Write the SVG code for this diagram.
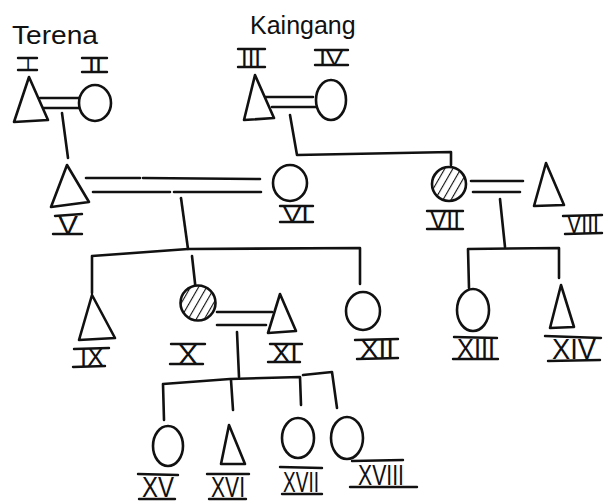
<svg xmlns="http://www.w3.org/2000/svg" width="604" height="502" viewBox="0 0 604 502">
<defs>
<style>
.s{fill:none;stroke:#111;stroke-width:2.6;stroke-linecap:round;stroke-linejoin:round}
.f{fill:#fff;stroke:#111;stroke-width:2.6;stroke-linejoin:round}
.h{fill:url(#hatch);stroke:#111;stroke-width:2.6}
.bar{stroke:#111;stroke-width:2.4;stroke-linecap:round}
.lb{font-family:"Liberation Sans",Arial,sans-serif;fill:#111;text-anchor:middle}
.tt{font-family:"Liberation Sans",Arial,sans-serif;font-size:25px;fill:#111}
</style>
<pattern id="hatch" patternUnits="userSpaceOnUse" width="7" height="7" patternTransform="rotate(30)">
<rect width="7" height="7" fill="#fff"/>
<line x1="0" y1="0" x2="0" y2="7" stroke="#111" stroke-width="2.2"/>
</pattern>
</defs>
<rect width="604" height="502" fill="#fff"/>
<text class="tt" x="12" y="44" textLength="86" lengthAdjust="spacingAndGlyphs">Terena</text>
<text class="tt" x="250" y="34">Kaingang</text>

<g id="connectors" class="s">
<path d="M40 98 L80 98 M42 108 L80 108"/>
<path d="M62 113 L68 158"/>
<path d="M265 97 L313 97 M272 107 L316 107"/>
<path d="M290 115 L297 155 L451 152 L451 165"/>
<path d="M86 178 L140 178 M143 178 L260 179 M93 192 L170 192 M174 192 L261 192"/>
<path d="M181 198 L188 249"/>
<path d="M92 293 L92 256 L188 249 L360 248 L360 284"/>
<path d="M192 256 L196 292"/>
<path d="M217 312 L272 312 M217 325 L266 325"/>
<path d="M471 181 L523 181 M473 192 L520 192"/>
<path d="M500 199 L505 247"/>
<path d="M469 288 L468 249 L559 248 L559 278"/>
<path d="M237 332 L239 377"/>
<path d="M164 420 L163 384 L230 379 L300 377 L301 405"/>
<path d="M231 380 L233 410"/>
<path d="M303 375 L332 372 L337 408"/>
</g>

<g id="n1"><path class="f" d="M29 77 L48 120 L14 122 Z"/><line class="bar" x1="18" y1="58" x2="37" y2="58"/><line class="bar" x1="18" y1="70" x2="37" y2="70"/><text class="lb" x="28" y="70" style="font-size:17px">I</text></g>
<g id="n2"><ellipse class="f" cx="95" cy="103" rx="16" ry="18"/><line class="bar" x1="82" y1="58" x2="107" y2="58"/><line class="bar" x1="82" y1="72" x2="107" y2="72"/><text class="lb" x="95" y="72" style="font-size:19px" textLength="14" lengthAdjust="spacingAndGlyphs">II</text></g>
<g id="n3"><path class="f" d="M255 75 L274 118 L244 120 Z"/><line class="bar" x1="238" y1="49" x2="265" y2="49"/><line class="bar" x1="238" y1="67" x2="265" y2="67"/><text class="lb" x="251" y="67" style="font-size:25px" textLength="20" lengthAdjust="spacingAndGlyphs">III</text></g>
<g id="n4"><ellipse class="f" cx="331" cy="100" rx="15" ry="20"/><line class="bar" x1="315" y1="50" x2="348" y2="50"/><line class="bar" x1="315" y1="65" x2="348" y2="65"/><text class="lb" x="331" y="65" style="font-size:21px" textLength="24" lengthAdjust="spacingAndGlyphs">IV</text></g>

<g id="n5"><path class="f" d="M67 165 L89 202 L51 207 Z"/><line class="bar" x1="55" y1="216" x2="82" y2="214"/><line class="bar" x1="53" y1="234" x2="82" y2="234"/><text class="lb" x="68" y="234" style="font-size:25px" textLength="20" lengthAdjust="spacingAndGlyphs">V</text></g>
<g id="n6"><ellipse class="f" cx="290" cy="183" rx="17" ry="18"/><line class="bar" x1="280" y1="206" x2="313" y2="206"/><line class="bar" x1="280" y1="222" x2="313" y2="222"/><text class="lb" x="296" y="222" style="font-size:22px" textLength="26" lengthAdjust="spacingAndGlyphs">VI</text></g>
<g id="n7"><circle class="h" cx="449" cy="184" r="17"/><line class="bar" x1="427" y1="211" x2="463" y2="211"/><line class="bar" x1="427" y1="229" x2="463" y2="229"/><text class="lb" x="445" y="229" style="font-size:25px" textLength="30" lengthAdjust="spacingAndGlyphs">VII</text></g>
<g id="n8"><path class="f" d="M546 163 L564 205 L534 206 Z"/><line class="bar" x1="563" y1="216" x2="602" y2="215"/><line class="bar" x1="565" y1="234" x2="602" y2="233"/><text class="lb" x="583" y="233" style="font-size:25px" textLength="32" lengthAdjust="spacingAndGlyphs">VIII</text></g>

<g id="n9"><path class="f" d="M92 295 L115 338 L79 340 Z"/><line class="bar" x1="74" y1="349" x2="109" y2="348"/><line class="bar" x1="73" y1="367" x2="105" y2="366"/><text class="lb" x="92" y="366" style="font-size:25px" textLength="24" lengthAdjust="spacingAndGlyphs">IX</text></g>
<g id="n10"><circle class="h" cx="198" cy="303" r="17.5"/><line class="bar" x1="171" y1="344" x2="205" y2="344"/><line class="bar" x1="170" y1="364" x2="203" y2="364"/><text class="lb" x="188" y="364" style="font-size:27px" textLength="20" lengthAdjust="spacingAndGlyphs">X</text></g>
<g id="n11"><path class="f" d="M280 294 L296 331 L268 333 Z"/><line class="bar" x1="270" y1="344" x2="302" y2="344"/><line class="bar" x1="268" y1="362" x2="300" y2="362"/><text class="lb" x="285" y="362" style="font-size:25px" textLength="26" lengthAdjust="spacingAndGlyphs">XI</text></g>
<g id="n12"><ellipse class="f" cx="363" cy="311" rx="17" ry="19"/><line class="bar" x1="355" y1="340" x2="398" y2="339"/><line class="bar" x1="357" y1="359" x2="398" y2="358"/><text class="lb" x="377" y="358" style="font-size:26px" textLength="34" lengthAdjust="spacingAndGlyphs">XII</text></g>
<g id="n13"><ellipse class="f" cx="473" cy="310" rx="16" ry="21"/><line class="bar" x1="454" y1="337" x2="497" y2="338"/><line class="bar" x1="453" y1="359" x2="498" y2="359"/><text class="lb" x="476" y="358" style="font-size:28px" textLength="38" lengthAdjust="spacingAndGlyphs">XIII</text></g>
<g id="n14"><path class="f" d="M561 285 L574 327 L550 328 Z"/><line class="bar" x1="545" y1="336" x2="601" y2="338"/><line class="bar" x1="548" y1="361" x2="600" y2="360"/><text class="lb" x="574" y="359" style="font-size:29px" textLength="44" lengthAdjust="spacingAndGlyphs">XIV</text></g>

<g id="n15"><ellipse class="f" cx="168" cy="446" rx="15" ry="20"/><line class="bar" x1="138" y1="474" x2="178" y2="475"/><line class="bar" x1="139" y1="499" x2="175" y2="499"/><text class="lb" x="158" y="497" style="font-size:30px" textLength="32" lengthAdjust="spacingAndGlyphs">XV</text></g>
<g id="n16"><path class="f" d="M229 425 L245 464 L221 464 Z"/><line class="bar" x1="207" y1="474" x2="249" y2="474"/><line class="bar" x1="209" y1="499" x2="246" y2="499"/><text class="lb" x="228" y="497" style="font-size:30px" textLength="34" lengthAdjust="spacingAndGlyphs">XVI</text></g>
<g id="n17"><ellipse class="f" cx="298" cy="438" rx="16" ry="20"/><line class="bar" x1="280" y1="467" x2="322" y2="468"/><line class="bar" x1="282" y1="494" x2="322" y2="494"/><text class="lb" x="301" y="492" style="font-size:30px" textLength="36" lengthAdjust="spacingAndGlyphs">XVII</text></g>
<g id="n18"><ellipse class="f" cx="347" cy="438" rx="16" ry="21"/><line class="bar" x1="352" y1="461" x2="403" y2="460"/><line class="bar" x1="350" y1="487" x2="417" y2="487"/><text class="lb" x="381" y="485" style="font-size:30px" textLength="46" lengthAdjust="spacingAndGlyphs">XVIII</text></g>
</svg>
